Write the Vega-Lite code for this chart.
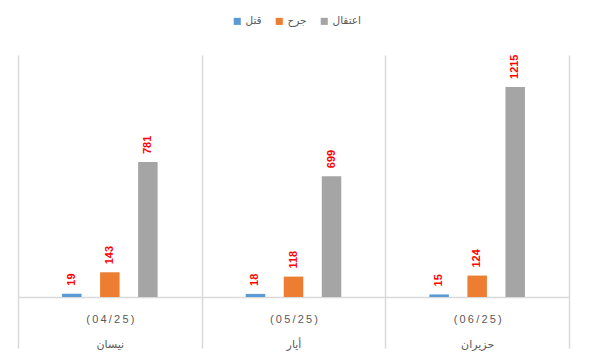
{
  "$schema": "https://vega.github.io/schema/vega-lite/v6.json",
  "width": 551,
  "height": 242,
  "autosize": {"type": "none"},
  "padding": {"left": 18, "top": 55, "right": 21, "bottom": 61},
  "background": "white",
  "config": {
    "view": {"stroke": null},
    "font": "Liberation Sans, DejaVu Sans, sans-serif"
  },
  "data": {
    "values": [
      {"period": "(\u20090\u20094\u2009/\u20092\u20095\u2009)|نيسان", "series": "قتل", "value": 19},
      {"period": "(\u20090\u20094\u2009/\u20092\u20095\u2009)|نيسان", "series": "جرح", "value": 143},
      {"period": "(\u20090\u20094\u2009/\u20092\u20095\u2009)|نيسان", "series": "اعتقال", "value": 781},
      {"period": "(\u20090\u20095\u2009/\u20092\u20095\u2009)|أيار", "series": "قتل", "value": 18},
      {"period": "(\u20090\u20095\u2009/\u20092\u20095\u2009)|أيار", "series": "جرح", "value": 118},
      {"period": "(\u20090\u20095\u2009/\u20092\u20095\u2009)|أيار", "series": "اعتقال", "value": 699},
      {"period": "(\u20090\u20096\u2009/\u20092\u20095\u2009)|حزيران", "series": "قتل", "value": 15},
      {"period": "(\u20090\u20096\u2009/\u20092\u20095\u2009)|حزيران", "series": "جرح", "value": 124},
      {"period": "(\u20090\u20096\u2009/\u20092\u20095\u2009)|حزيران", "series": "اعتقال", "value": 1215}
    ]
  },
  "encoding": {
    "x": {
      "field": "period",
      "type": "nominal",
      "sort": null,
      "scale": {"paddingInner": 0, "paddingOuter": 0},
      "axis": {
        "title": null,
        "labelAngle": 0,
        "labelExpr": "split(datum.label, '|')",
        "labelLineHeight": 25,
        "labelBaseline": "top",
        "labelPadding": -35,
        "labelFontSize": 11,
        "labelColor": "#595959",
        "domainColor": "#d9d9d9",
        "domainWidth": 1.5,
        "grid": true,
        "gridColor": "#d9d9d9",
        "gridWidth": 1.5,
        "tickBand": "extent",
        "ticks": true,
        "tickSize": 51,
        "tickColor": "#d9d9d9",
        "tickWidth": 1.5
      }
    },
    "xOffset": {
      "field": "series",
      "type": "nominal",
      "sort": ["قتل", "جرح", "اعتقال"],
      "scale": {"paddingInner": 0.17, "paddingOuter": 1}
    },
    "y": {
      "field": "value",
      "type": "quantitative",
      "scale": {"domain": [0, 1400]},
      "axis": null
    }
  },
  "layer": [
    {
      "mark": {"type": "bar", "width": 19.5},
      "encoding": {
        "color": {
          "field": "series",
          "type": "nominal",
          "sort": ["قتل", "جرح", "اعتقال"],
          "scale": {"domain": ["قتل", "جرح", "اعتقال"], "range": ["#5b9bd5", "#ed7d31", "#a5a5a5"]},
          "legend": {
            "title": null,
            "orient": "none",
            "direction": "horizontal",
            "legendX": 214,
            "legendY": -39,
            "symbolType": "square",
            "symbolSize": 50,
            "symbolStrokeWidth": 0,
            "labelFontSize": 10.5,
            "labelColor": "#595959",
            "labelOffset": 3,
            "columnPadding": 12
          }
        }
      }
    },
    {
      "mark": {"type": "text", "angle": 270, "align": "left", "baseline": "middle", "dx": 8, "color": "#ff0000", "fontWeight": "bold", "fontSize": 11},
      "encoding": {"text": {"field": "value", "type": "quantitative"}}
    }
  ]
}
